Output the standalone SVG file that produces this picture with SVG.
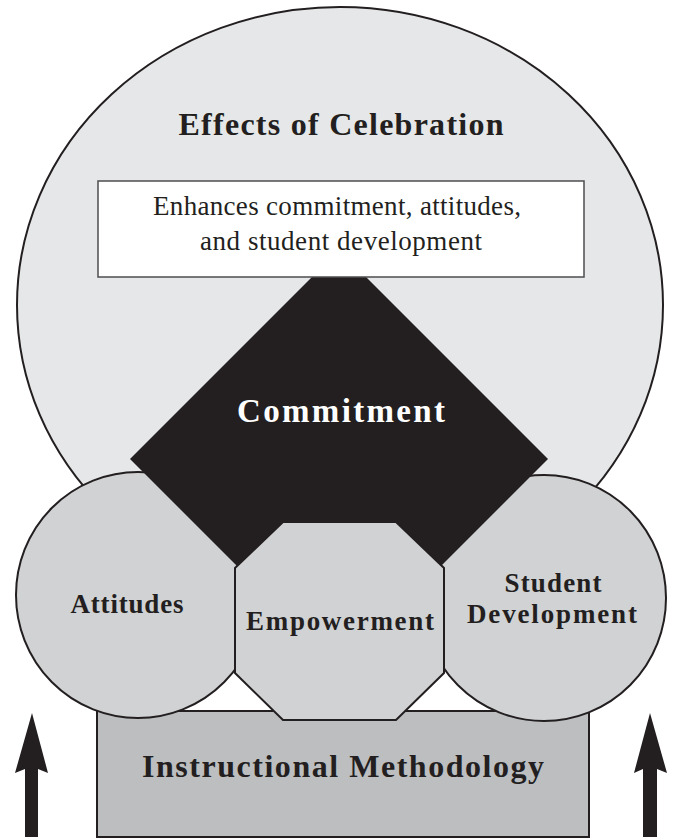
<svg xmlns="http://www.w3.org/2000/svg" width="675" height="840" viewBox="0 0 675 840">
<style>
.lbl{font-family:"Liberation Serif","Times New Roman",serif;font-weight:bold;fill:#231f20;text-anchor:middle}
.reg{font-family:"Liberation Serif","Times New Roman",serif;fill:#231f20;text-anchor:middle}
.stk{stroke:#231f20;stroke-width:2}
</style>
<rect width="675" height="840" fill="#ffffff"/>
<g id="effects">
<ellipse cx="340" cy="305" rx="323" ry="298" fill="#e6e7e8" class="stk"/>
<text class="lbl" x="341" y="135" font-size="32" textLength="325" lengthAdjust="spacing">Effects of Celebration</text>
</g>
<g id="instructional">
<rect x="97" y="711" width="492" height="126" fill="#bcbec0" class="stk"/>
<text class="lbl" x="343" y="777" font-size="32" textLength="402" lengthAdjust="spacing">Instructional Methodology</text>
</g>
<g id="attitudes">
<ellipse cx="138" cy="595" rx="122" ry="123" fill="#d1d2d4" class="stk"/>
<text class="lbl" x="127" y="613" font-size="27" textLength="113" lengthAdjust="spacing">Attitudes</text>
</g>
<g id="student-development">
<ellipse cx="544" cy="598" rx="122" ry="123" fill="#d1d2d4" class="stk"/>
<text class="lbl" x="553" y="592" font-size="27" textLength="97" lengthAdjust="spacing">Student</text>
<text class="lbl" x="552" y="623" font-size="27" textLength="170" lengthAdjust="spacing">Development</text>
</g>
<g id="commitment">
<polygon points="339,250 548,459 339,668 130,459" fill="#231f20"/>
<text class="lbl" x="341" y="422" font-size="33" style="fill:#ffffff" textLength="208" lengthAdjust="spacing">Commitment</text>
</g>
<g id="empowerment">
<polygon points="283,522 396,522 444,568 444,673 396,720 283,720 235,673 235,568" fill="#d1d2d4" class="stk"/>
<text class="lbl" x="340" y="630" font-size="27" textLength="188" lengthAdjust="spacing">Empowerment</text>
</g>
<g id="effects-box">
<rect x="98" y="181" width="486" height="96" fill="#ffffff" stroke="#4d4d4f" stroke-width="1.5"/>
<text class="reg" x="337" y="215" font-size="27" textLength="368" lengthAdjust="spacing">Enhances commitment, attitudes,</text>
<text class="reg" x="341" y="250" font-size="27" textLength="282" lengthAdjust="spacing">and student development</text>
</g>
<g id="connectors" fill="#231f20">
<path d="M32,713 L48,773 L38,769 L38,837 L25,837 L25,769 L15,773 Z"/>
<path d="M650,713 L667,773 L657,769 L657,837 L643,837 L643,769 L634,773 Z"/>
</g>
</svg>
